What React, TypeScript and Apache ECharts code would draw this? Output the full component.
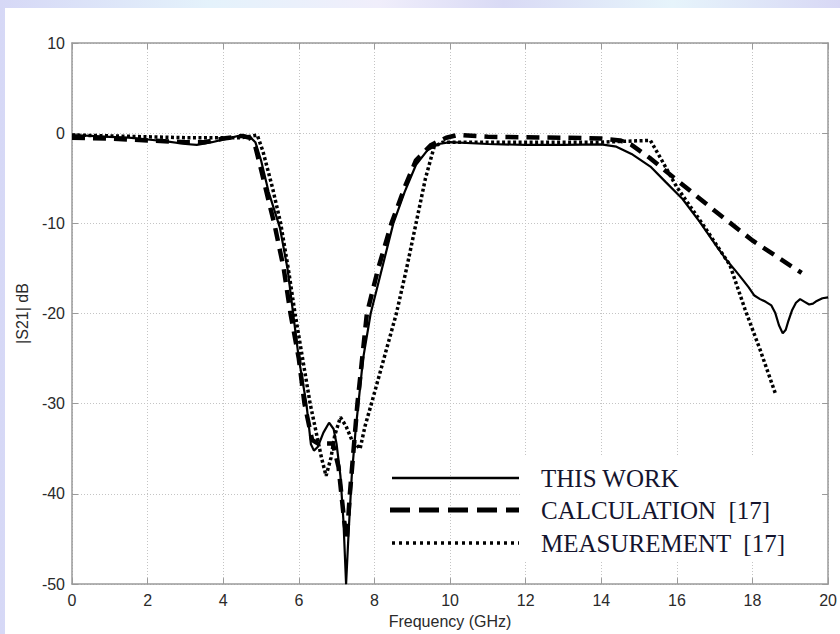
import React, { useEffect, useRef } from "react";
import * as echarts from "echarts";

const xTicks = [0, 2, 4, 6, 8, 10, 12, 14, 16, 18, 20];
const yTicks = [-50, -40, -30, -20, -10, 0, 10];

const legendLabels = ["THIS WORK", "CALCULATION  [17]", "MEASUREMENT  [17]"];

const thisWork: number[][] = [
  [0, -0.2], [0.5, -0.3], [1, -0.4], [1.5, -0.5], [2, -0.7], [2.5, -0.9], [3, -1.2], [3.3, -1.3],
  [3.7, -1.0], [4.1, -0.6], [4.5, -0.2], [4.7, -0.4], [4.85, -1.0], [5.0, -3.0], [5.2, -6.5],
  [5.5, -10.5], [5.7, -15], [5.85, -20], [6.0, -25], [6.2, -30], [6.32, -34.5], [6.4, -35.2],
  [6.5, -34.8], [6.65, -33.2], [6.8, -32.1], [6.92, -32.8], [7.0, -34.5], [7.1, -38], [7.18, -43],
  [7.25, -50], [7.32, -44], [7.4, -38], [7.5, -33], [7.7, -25], [7.9, -20], [8.2, -15], [8.5, -10],
  [8.8, -6.5], [9.1, -3.5], [9.4, -1.9], [9.7, -1.2], [10, -1.0], [11, -1.2], [12, -1.3], [13, -1.3],
  [14, -1.25], [14.4, -1.5], [14.8, -2.3], [15.3, -3.7], [15.7, -5.4], [16.15, -7.3], [16.6, -9.8],
  [17.03, -12.4], [17.3, -14], [17.56, -15.3], [17.75, -16.3], [17.9, -17.1], [18.05, -18.0],
  [18.2, -18.4], [18.35, -18.7], [18.5, -19.1], [18.6, -19.9], [18.7, -21.3], [18.8, -22.2],
  [18.88, -21.8], [18.95, -20.8], [19.05, -19.6], [19.15, -18.8], [19.26, -18.4], [19.38, -18.7],
  [19.5, -19.0], [19.6, -18.9], [19.7, -18.6], [19.85, -18.3], [20, -18.2],
];

const calculation: number[][] = [
  [0, -0.5], [1, -0.6], [2, -0.8], [3, -1.0], [3.5, -1.0], [4, -0.6], [4.5, -0.3], [4.7, -0.5],
  [4.85, -1.5], [5.0, -4], [5.2, -7.5], [5.35, -10], [5.6, -15], [5.78, -20], [6.0, -25], [6.15, -30],
  [6.35, -34], [6.5, -34.4], [6.9, -34.4], [7.05, -37], [7.2, -43], [7.27, -45], [7.35, -40],
  [7.55, -30], [7.8, -20], [8.1, -15], [8.45, -10], [8.8, -6], [9.1, -3], [9.5, -1.3], [9.9, -0.5],
  [10.2, -0.2], [11, -0.4], [12, -0.45], [13, -0.5], [14, -0.6], [14.5, -0.8], [14.8, -1.3],
  [15.3, -2.8], [16, -5.2], [17, -8.6], [18, -11.9], [19.3, -15.5],
];

const measurement: number[][] = [
  [0, -0.2], [1, -0.3], [2, -0.4], [3, -0.5], [4, -0.5], [4.5, -0.5], [4.9, -0.2], [5.05, -2],
  [5.3, -6], [5.52, -10], [5.72, -15], [5.9, -20], [6.1, -25], [6.3, -30], [6.45, -33], [6.6, -36],
  [6.72, -38], [6.85, -36], [6.95, -33.5], [7.1, -31.5], [7.25, -32.5], [7.4, -34], [7.62, -35],
  [7.75, -32.5], [7.92, -30], [8.25, -25], [8.58, -20], [8.85, -15], [9.1, -10], [9.35, -5],
  [9.58, -1.5], [9.8, -1.0], [10, -1.0], [12, -1.0], [14, -1.0], [14.6, -0.9], [15.3, -0.8],
  [15.6, -3.0], [16.0, -6.0], [16.7, -10.2], [17.4, -14.6], [17.8, -19.5], [18.2, -24], [18.6, -28.8],
];

const FONT = '"Liberation Sans", Arial, sans-serif';
const AXIS_GRAY = "#9a9a9a";

export default function App() {
  const ref = useRef<HTMLDivElement>(null);
  useEffect(() => {
    if (!ref.current) return;
    const chart = echarts.init(ref.current, undefined, { renderer: "svg" });
    const axisCommon = {
      axisLine: { show: true, onZero: false, lineStyle: { color: AXIS_GRAY, width: 1.5 } },
      axisTick: { show: true, inside: true, length: 6, lineStyle: { color: AXIS_GRAY, width: 1 } },
    };
    const legendY = [478, 510, 543];
    const option: any = {
      animation: false,
      backgroundColor: "transparent",
      grid: { left: 72, right: 7, top: 43, bottom: 42, show: false },
      xAxis: [
        {
          type: "value", min: xTicks[0], max: xTicks[xTicks.length - 1], interval: 2, position: "bottom",
          ...axisCommon,
          axisLabel: { color: "#2a2a2a", fontSize: 16, fontFamily: FONT, margin: 8 },
          splitLine: { show: true, lineStyle: { color: "#c4c4c4", width: 1, type: [1, 2] } },
          name: "Frequency (GHz)", nameLocation: "middle", nameGap: 25,
          nameTextStyle: { color: "#2a2a2a", fontSize: 16, fontFamily: FONT },
        },
        {
          type: "value", min: xTicks[0], max: xTicks[xTicks.length - 1], interval: 2, position: "top",
          ...axisCommon, axisLabel: { show: false }, splitLine: { show: false },
        },
      ],
      yAxis: [
        {
          type: "value", min: yTicks[0], max: yTicks[yTicks.length - 1], interval: 10, position: "left",
          ...axisCommon,
          axisLabel: { color: "#2a2a2a", fontSize: 16, fontFamily: FONT, margin: 7 },
          splitLine: { show: true, lineStyle: { color: "#c4c4c4", width: 1, type: [1, 2] } },
          name: "|S21| dB", nameLocation: "middle", nameGap: 40,
          nameTextStyle: { color: "#2a2a2a", fontSize: 16, fontFamily: FONT },
        },
        {
          type: "value", min: yTicks[0], max: yTicks[yTicks.length - 1], interval: 10, position: "right",
          ...axisCommon, axisLabel: { show: false }, splitLine: { show: false },
        },
      ],
      series: [
        {
          name: legendLabels[0], type: "line", data: thisWork, symbol: "none", z: 4,
          lineStyle: { color: "#000", width: 2.2 },
        },
        {
          name: legendLabels[1], type: "line", data: calculation, symbol: "none", z: 3,
          lineStyle: { color: "#000", width: 4.5, type: [13, 8] },
        },
        {
          name: legendLabels[2], type: "line", data: measurement, symbol: "none", z: 3,
          lineStyle: { color: "#000", width: 3.5, type: [3, 2.5] },
        },
      ],
      graphic: [
        { type: "rect", z: -10, silent: true, shape: { x: 5, y: 8, width: 840, height: 640 }, style: { fill: "#ffffff" } },
        { type: "rect", z: 10, shape: { x: 522, y: 456, width: 300, height: 106 }, style: { fill: "#ffffff" } },
        { type: "line", z: 10, shape: { x1: 392, y1: legendY[0], x2: 519, y2: legendY[0] }, style: { stroke: "#000", lineWidth: 2.5 } },
        { type: "line", z: 10, shape: { x1: 390, y1: legendY[1], x2: 519, y2: legendY[1] }, style: { stroke: "#000", lineWidth: 5, lineDash: [20, 9] } },
        { type: "line", z: 10, shape: { x1: 392, y1: legendY[2], x2: 519, y2: legendY[2] }, style: { stroke: "#000", lineWidth: 3.5, lineDash: [3, 4] } },
        ...legendLabels.map((t, i) => ({
          type: "text", z: 11, x: 541, y: legendY[i],
          style: { text: t, fontSize: 25, fontFamily: '"Liberation Serif", "Times New Roman", serif', fill: "#14142e", align: "left", verticalAlign: "middle" },
        })),
      ],
    };
    chart.setOption(option);
    return () => chart.dispose();
  }, []);
  return (
    <div
      style={{
        position: "absolute", left: 0, top: 0, width: 840, height: 634,
        background: "linear-gradient(90deg, #d6d8f6 0%, #e4f2fb 25%, #f0eefb 45%, #d9daf5 60%, #e6f4fb 80%, #d8d8f5 100%)",
      }}
    >
      <div ref={ref} style={{ width: 840, height: 634 }} />
    </div>
  );
}
